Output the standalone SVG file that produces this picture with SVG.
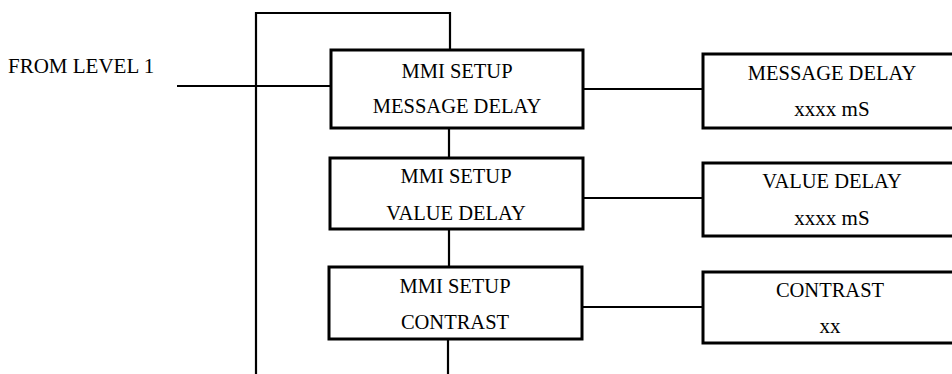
<svg xmlns="http://www.w3.org/2000/svg" width="952" height="374" viewBox="0 0 952 374">
  <style>
    .box { fill: #fff; stroke: #000; stroke-width: 3; }
    .wire { fill: none; stroke: #000; stroke-width: 2.2; }
    text { font-family: "Liberation Serif", "Times New Roman", serif; font-size: 20.5px; fill: #000; text-anchor: middle; }
    .lbl { text-anchor: start; font-size: 21px; }
    .val { font-size: 21px; }
  </style>
  <rect width="952" height="374" fill="#fff"/>

  <!-- connectors -->
  <g id="connectors">
    <polyline class="wire" points="256,374 256,13 450,13 450,50"/>
    <line class="wire" x1="177" y1="86" x2="331" y2="86"/>
    <line class="wire" x1="449" y1="128" x2="449" y2="158"/>
    <line class="wire" x1="449" y1="229" x2="449" y2="267"/>
    <line class="wire" x1="448" y1="339" x2="448" y2="374"/>
    <line class="wire" x1="583" y1="89" x2="703" y2="89"/>
    <line class="wire" x1="583" y1="198" x2="703" y2="198"/>
    <line class="wire" x1="582" y1="307" x2="703" y2="307"/>
  </g>

  <g id="entry-label">
    <text class="lbl" x="8" y="73">FROM LEVEL 1</text>
  </g>

  <g id="setup-message-delay">
    <rect class="box" x="331" y="50" width="252" height="78"/>
    <text x="457" y="78">MMI SETUP</text>
    <text x="457" y="113">MESSAGE DELAY</text>
  </g>
  <g id="setup-value-delay">
    <rect class="box" x="330" y="158" width="253" height="71"/>
    <text x="456" y="183">MMI SETUP</text>
    <text x="456" y="220">VALUE DELAY</text>
  </g>
  <g id="setup-contrast">
    <rect class="box" x="329" y="267" width="253" height="72"/>
    <text x="455" y="293">MMI SETUP</text>
    <text x="455" y="329">CONTRAST</text>
  </g>

  <g id="message-delay">
    <rect class="box" x="703" y="54" width="260" height="74"/>
    <text x="832" y="80">MESSAGE DELAY</text>
    <text class="val" x="832" y="116">xxxx mS</text>
  </g>
  <g id="value-delay">
    <rect class="box" x="703" y="163" width="260" height="73"/>
    <text x="832" y="188">VALUE DELAY</text>
    <text class="val" x="832" y="225">xxxx mS</text>
  </g>
  <g id="contrast">
    <rect class="box" x="703" y="272" width="260" height="71"/>
    <text x="830" y="297">CONTRAST</text>
    <text class="val" x="830" y="333">xx</text>
  </g>
</svg>
